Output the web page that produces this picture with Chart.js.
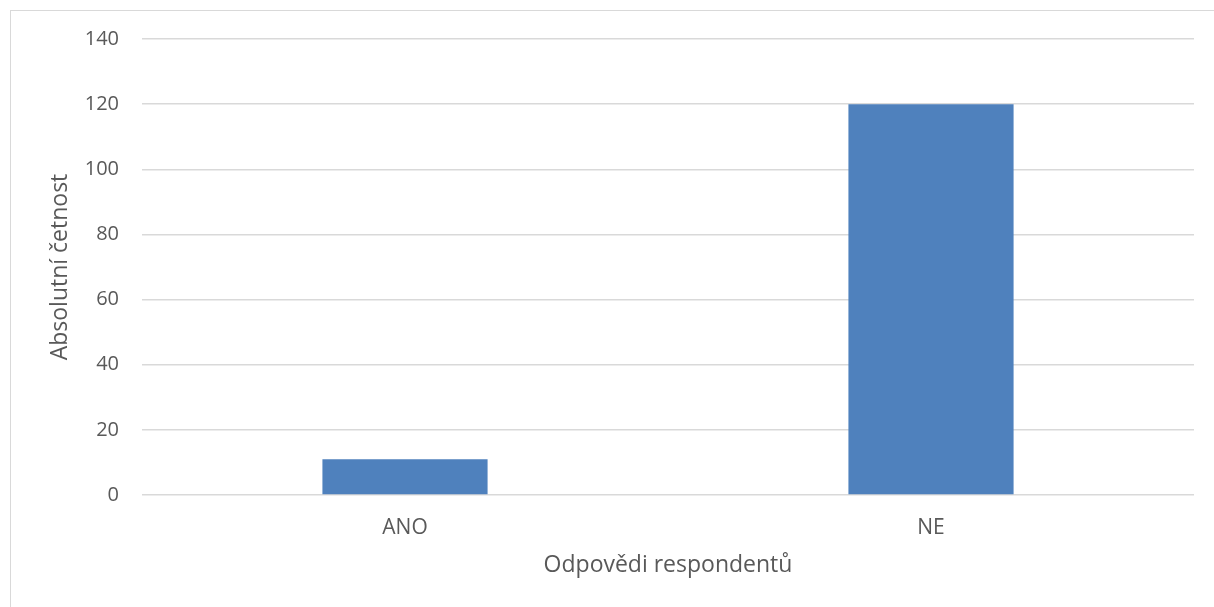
<!DOCTYPE html>
<html>
<head>
<meta charset="utf-8">
<script src="https://cdn.jsdelivr.net/npm/chart.js@4"></script>
<style>
  html, body { margin: 0; padding: 0; background: #fff; overflow: hidden; }
  #frame {
    position: absolute; left: 10px; top: 10px;
    width: 1204px; height: 597px;
    border-left: 1px solid #d9d9d9; border-top: 1px solid #d9d9d9;
  }
  #myChart { display: block; }
</style>
</head>
<body>
<div id="frame"><canvas id="myChart" width="1203" height="596"></canvas></div>
<script>
// odpovedi a jejich cetnosti
var categories = ["ANO", "NE"];
var counts = [11, 120];
var yTicks = [0, 20, 40, 60, 80, 100, 120, 140];

var textColor = '#595959';
var gridColor = '#d9d9d9';
var fontName = "'Open Sans', sans-serif";

function chartOnLoad() {
  const ctx = document.getElementById('myChart');

  new Chart(ctx, {
    type: 'bar',
    data: {
      labels: categories,
      datasets: [{
        label: 'Absolutní četnost',
        data: counts,
        backgroundColor: '#4f81bd',
        borderWidth: 0,
        categoryPercentage: 1,
        barPercentage: 0.314
      }]
    },
    options: {
      responsive: false,
      animation: false,
      layout: { padding: { top: 28, right: 20, left: 0, bottom: 0 } },
      plugins: {
        legend: { display: false },
        tooltip: { enabled: false }
      },
      scales: {
        x: {
          grid: { display: false },
          border: { display: false },
          ticks: { color: textColor, font: { family: fontName, size: 21 }, padding: 12 },
          title: {
            display: true,
            text: 'Odpovědi respondentů',
            color: textColor,
            font: { family: fontName, size: 23 },
            padding: { top: 0, bottom: 28 }
          },
          afterFit: function (scale) { scale.height = 112; }
        },
        y: {
          min: 0,
          max: 140,
          afterBuildTicks: function (scale) {
            scale.ticks = yTicks.map(function (v) { return { value: v }; });
          },
          grid: { color: gridColor, lineWidth: 1.5, drawTicks: false },
          border: { display: false },
          ticks: { color: textColor, font: { family: fontName, size: 20 }, padding: 23 },
          title: {
            display: true,
            text: 'Absolutní četnost',
            color: textColor,
            font: { family: fontName, size: 23 },
            padding: { top: 36, bottom: 0 }
          },
          afterFit: function (scale) {
            scale.width = 131;
            scale.paddingTop = 0;
            scale.paddingBottom = 0;
          }
        }
      }
    }
  });
}

window.onload = chartOnLoad();
</script>
</body>
</html>
